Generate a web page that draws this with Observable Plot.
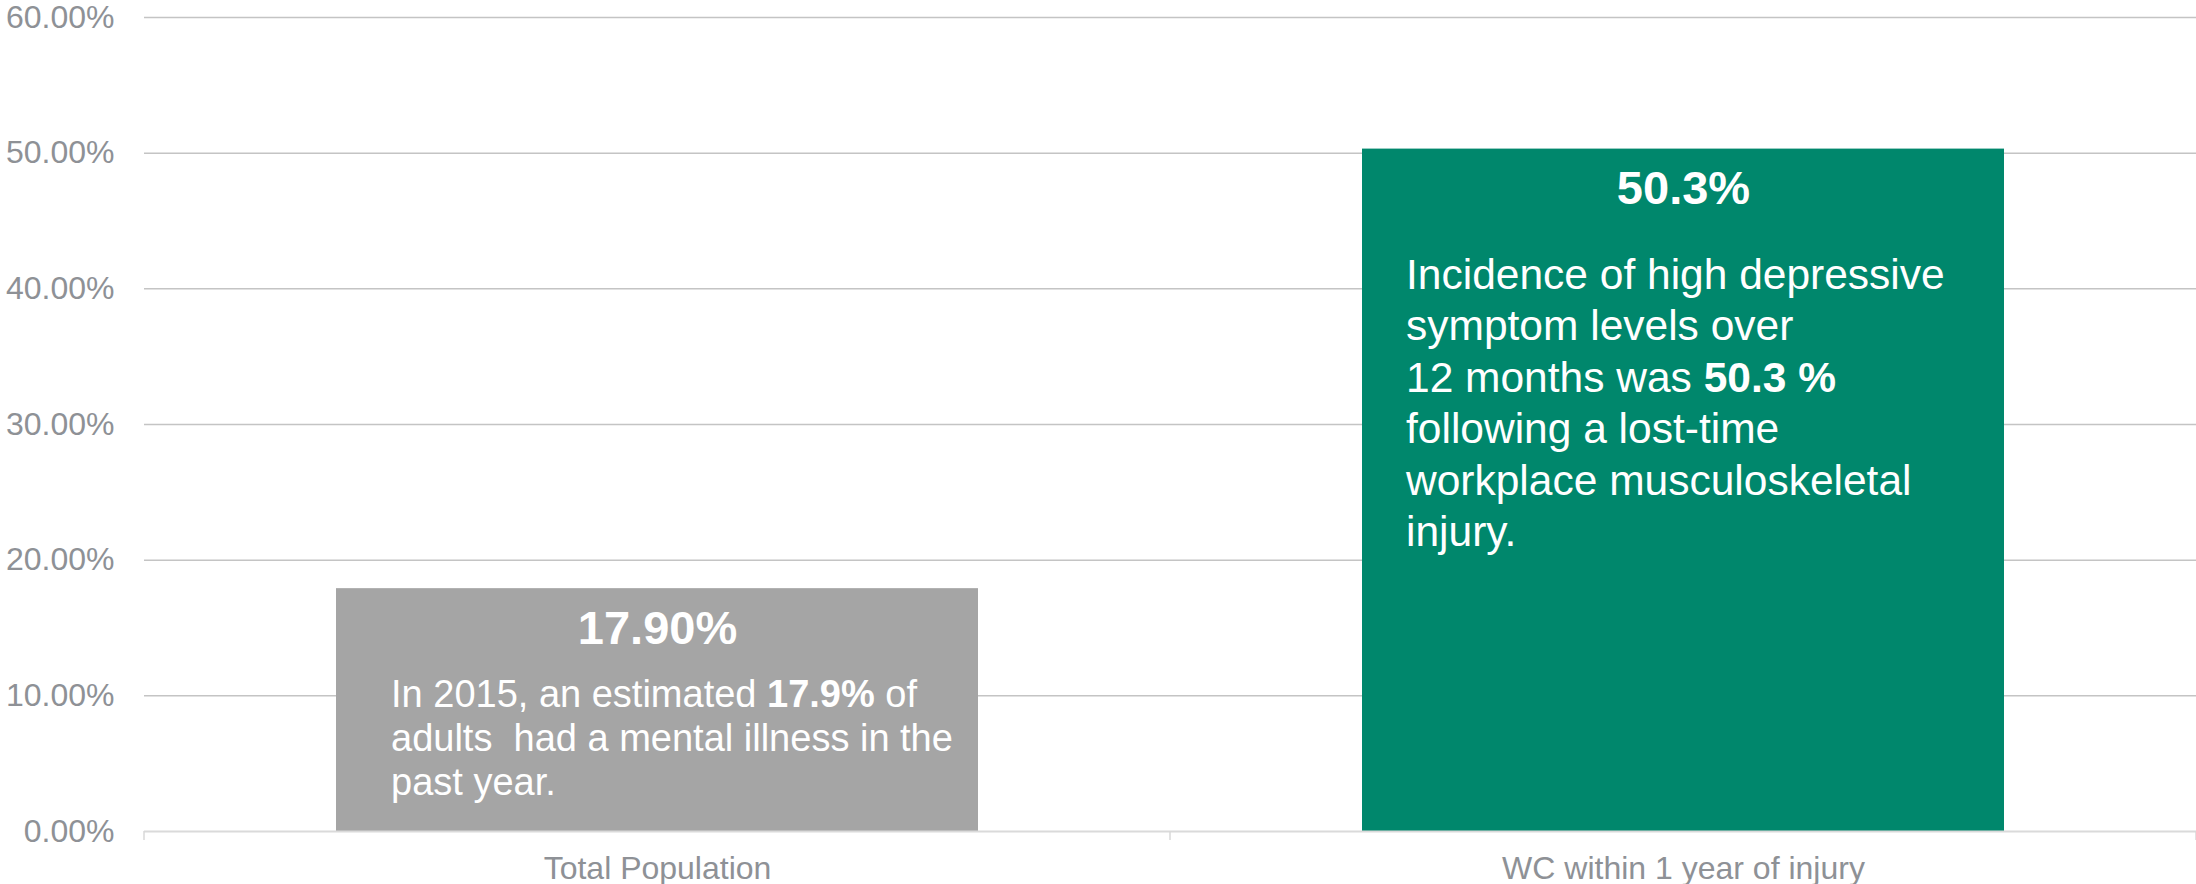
<!DOCTYPE html>
<html><head><meta charset="utf-8">
<script src="https://cdn.jsdelivr.net/npm/d3@7"></script>
<script src="https://cdn.jsdelivr.net/npm/@observablehq/plot@0.6"></script>
<style>
  html, body { margin: 0; padding: 0; background: #fff; }
</style>
</head><body><div id="chart"></div>
<script>
// ---- data ----
const categories = ["Total Population", "WC within 1 year of injury"];
const values = [0.179, 0.503];
const valueLabels = ["17.90%", "50.3%"];
const yTicks = [0, 0.1, 0.2, 0.3, 0.4, 0.5, 0.6];
const notes = [
  [
    [["In 2015, an estimated ", false], ["17.9%", true], [" of", false]],
    [["adults  had a mental illness in the", false]],
    [["past year.", false]]
  ],
  [
    [["Incidence of high depressive", false]],
    [["symptom levels over", false]],
    [["12 months was ", false], ["50.3 %", true]],
    [["following a lost-time", false]],
    [["workplace musculoskeletal", false]],
    [["injury.", false]]
  ]
];

// ---- styles ----
const barColors = ["#a5a5a5", "#00876c"];
const noteStyle = [
  {dx: 55, dy: 119, fontSize: 38, lineHeight: 44},
  {dx: 44, dy: 140, fontSize: 42.5, lineHeight: 51.5}
];
const FONT = "'Liberation Sans', Arial, Helvetica, sans-serif";

const data = categories.map((c, i) => ({cat: c, value: values[i], label: valueLabels[i], note: notes[i], color: barColors[i]}));

const plot = Plot.plot({
  width: 2196,
  height: 884,
  marginLeft: 144,
  marginRight: 0,
  marginTop: 17,
  marginBottom: 53,
  style: {fontFamily: FONT, fontSize: "32px", color: "#8e9196", background: "#fff", overflow: "visible"},
  x: {domain: categories, paddingInner: 0.374, paddingOuter: 0.187, label: null, tickSize: 0, tickPadding: 25},
  y: {domain: [0, 0.6], ticks: yTicks, tickFormat: d3.format(".2%"), label: null, tickSize: 0, tickPadding: 30},
  marks: [
    Plot.ruleY(yTicks.filter(t => t > 0), {stroke: "#c4c4c4", strokeWidth: 1.5}),
    Plot.barY(data, {x: "cat", y: "value", fill: "color"}),
    Plot.ruleY([0], {stroke: "#dadada", strokeWidth: 2}),
    Plot.text(data, {x: "cat", y: "value", text: "label", dy: 40, fontSize: 47, fontWeight: "bold", fill: "white"})
  ]
});

const xs = plot.scale("x");
const ys = plot.scale("y");
const svg = d3.select(plot);

// notes inside bars, positioned with the plot's own scales
const notesG = svg.append("g").attr("fill", "white").attr("font-family", FONT).attr("text-anchor", "start");
data.forEach((d, i) => {
  const st = noteStyle[i];
  const x0 = xs.apply(d.cat) + st.dx;
  const y0 = ys.apply(d.value) + st.dy;
  d.note.forEach((line, j) => {
    const t = notesG.append("text")
      .attr("x", x0)
      .attr("y", y0 + j * st.lineHeight)
      .attr("font-size", st.fontSize)
      .attr("text-anchor", "start")
      .attr("xml:space", "preserve")
      .style("white-space", "pre");
    line.forEach(([s, b]) => {
      const ts = t.append("tspan").text(s);
      if (b) ts.attr("font-weight", "bold");
    });
  });
});

// boundary tick marks on the category axis
const step = xs.step != null ? xs.step : (xs.range[1] - xs.range[0]) / categories.length;
const bw = xs.bandwidth != null ? xs.bandwidth : step * (1 - 0.374);
const bounds = categories.map(c => xs.apply(c) - (step - bw) / 2);
bounds.push(bounds[bounds.length - 1] + step);
const y0 = ys.apply(0);
svg.append("g").attr("stroke", "#d9d9d9").attr("stroke-width", 1.5)
  .selectAll("line").data(bounds).join("line")
  .attr("x1", d => d).attr("x2", d => d)
  .attr("y1", y0).attr("y2", y0 + 9);

document.getElementById("chart").appendChild(plot);
</script>
</body></html>
